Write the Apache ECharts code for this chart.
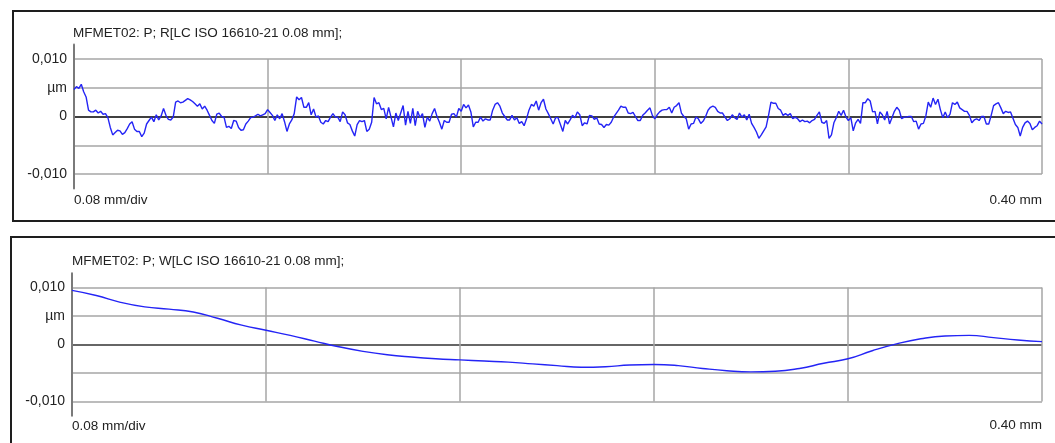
<!DOCTYPE html>
<html>
<head>
<meta charset="utf-8">
<script src="https://cdn.jsdelivr.net/npm/echarts@6/dist/echarts.min.js"></script>
<style>
html,body{margin:0;padding:0;background:#fff;}
#chart{width:1055px;height:443px;}
</style>
</head>
<body>
<div id="chart"></div>
<script>
// ---- data ----
const titleR = 'MFMET02: P; R[LC ISO 16610-21 0.08 mm];';
const titleW = 'MFMET02: P; W[LC ISO 16610-21 0.08 mm];';
const xScaleLabel = '0.08 mm/div';
const xEndLabel = '0.40 mm';
const xMin = 0, xMax = 0.40, xDiv = 0.08;
const yTicks = [-0.01, -0.005, 0, 0.005, 0.01];
const yTickLabels = ['-0,010', '', '0', 'µm', '0,010'];

// roughness profile, sampled every 0.001 mm
const rStep = 0.001;
const rValues = [
 0.0047,0.0052,0.0049,0.0056,0.0043,0.0034,0.0011,0.0008,0.0008,0.0011,
 0.0006,0.0009,0.0004,0.0005,-0.0002,-0.0019,-0.0032,-0.0028,-0.0024,-0.0025,
 -0.0031,-0.0028,-0.0021,-0.0013,-0.0009,-0.0022,-0.0026,-0.0026,-0.0035,-0.0029,
 -0.0013,-0.0007,-0.0001,-0.0009,0.0003,-0.0006,0.0001,0.0014,0.0002,-0.0005,
 -0.0006,-0.0001,0.0025,0.0027,0.0024,0.0025,0.0028,0.0031,0.0029,0.0026,
 0.0022,0.0018,0.0022,0.0013,0.0018,0.0011,0.0002,-0.0007,-0.0012,0.0004,
 0.0006,0,-0.0001,-0.0019,-0.0017,-0.0021,-0.0007,-0.0008,-0.0019,-0.0024,
 -0.0023,-0.0013,-0.0008,-0.0002,-0.0001,0.0001,0.0004,0.0001,0.0003,0.0005,
 0.0012,0.0007,0.0002,-0.0007,0.0003,-0.0004,0.0005,-0.0009,-0.0026,-0.0013,
 -0.0006,0.0005,0.0034,0.0029,0.0033,0.0016,0.0016,0.0024,0.0003,0.0013,
 -0.0001,0.0001,-0.001,-0.0013,-0.0007,-0.0009,-0.0001,0.0005,-0.0001,-0.0001,
 -0.0009,0.0008,0.0003,-0.0011,-0.0014,-0.0025,-0.0034,-0.0014,-0.0007,-0.0009,
 -0.0007,-0.0026,-0.0022,-0.001,0.0033,0.0022,0.0024,0.0012,0.0014,-0.0004,
 0.0016,-0.0001,-0.0018,0.0006,-0.0007,0.0006,0.0019,-0.0015,0.0009,-0.0012,
 0.0014,-0.0016,0.0009,-0.0002,0.0005,-0.0019,-0.0001,-0.0008,0.0005,0.0014,
 0,-0.001,-0.0022,-0.0007,-0.001,-0.001,0.0004,0.0005,-0.0001,0.0014,
 0.0009,0.0021,0.0015,0.002,0.0008,-0.0018,-0.001,-0.001,-0.0001,-0.0008,
 -0.0004,-0.0006,-0.0006,0.0011,0.0021,0.0024,0.0018,0.0006,0,-0.0006,
 -0.0006,0.0002,-0.0006,-0.0002,-0.0012,-0.0009,-0.0016,-0.0004,0.0011,0.0021,
 0.0018,0.0027,0.0011,0.0024,0.003,0.0013,0.0005,-0.0004,-0.0013,-0.0002,
 -0.0002,-0.0014,-0.0026,-0.0007,-0.0013,-0.0006,0.0002,-0.0002,0.0008,0.0003,
 -0.0016,-0.0011,-0.0013,0.0002,0.0001,-0.0005,-0.0002,-0.0013,-0.0014,-0.0019,
 -0.0014,-0.0015,-0.001,-0.0001,0.0005,0.0011,0.0018,0.0016,0.0016,0.0006,
 0.0005,0.0007,0,-0.0007,-0.0007,0.0002,0.0006,0.0011,0.0015,0.0002,
 -0.0004,0.0003,0.0008,0.0011,0.0012,0.0012,0.0016,0.0006,0.0016,0.0019,
 0.0024,0.0006,0,-0.0004,-0.0022,-0.0013,-0.0012,-0.0001,-0.0004,-0.0012,
 -0.0008,0,0.0011,0.0016,0.0018,0.0016,0.0009,0.0006,0.0006,-0.0001,
 -0.0007,-0.0004,0.0003,-0.0002,-0.0005,0.0006,-0.0001,0.0003,-0.0006,0.0004,
 -0.0012,-0.0019,-0.0027,-0.0038,-0.0032,-0.0025,-0.0018,0.0002,0.0025,0.0023,
 0.0023,0.0014,0.0011,0.0002,0.0005,0.0002,0.0005,-0.0004,-0.0001,-0.0004,
 -0.0009,-0.0006,-0.0009,-0.0008,-0.0011,-0.0007,-0.0005,0.0002,0.0008,-0.001,
 -0.0012,-0.0007,-0.0038,-0.0032,-0.0011,-0.0002,0.0009,0.0002,0.0011,-0.0001,
 -0.0007,-0.0002,-0.0025,-0.0011,-0.0005,-0.0012,0.0024,0.0024,0.0031,0.0027,
 0.0008,0.0009,-0.0013,0.0008,0.0003,-0.0006,0.0009,-0.0013,-0.0002,0.0009,
 0.0016,0.0011,-0.0004,-0.0001,-0.0001,0,0,-0.0009,-0.0008,-0.0022,
 -0.0013,-0.0012,0.0001,0.0025,0.0016,0.0032,0.0021,0.003,0.0012,-0.0002,
 0.0008,-0.0002,0.0004,0.0024,0.0021,0.0025,0.0015,0.0012,0.0009,0.0009,
 0.0002,-0.0011,-0.0006,-0.0004,-0.0007,0,0,-0.0013,-0.0013,0.0002,
 0.0019,0.0022,0.0024,0.0015,0.0005,0.0009,0.0007,0.0008,-0.0003,-0.0014,
 -0.0019,-0.0034,-0.0019,-0.0011,-0.0008,-0.0012,-0.0023,-0.0019,-0.0016,-0.0008,
 -0.0013
];

// waviness profile, sampled every 0.01 mm
const wStep = 0.01;
const wValues = [
 0.0095,0.0086,0.0074,0.0066,0.0062,0.0057,0.0046,0.0034,0.0025,0.0016,
 0.0006,-0.0004,-0.0012,-0.0018,-0.0022,-0.0025,-0.0027,-0.0029,-0.0031,-0.0034,
 -0.0037,-0.004,-0.0039,-0.0036,-0.0035,-0.0037,-0.0042,-0.0046,-0.0048,-0.0047,
 -0.0042,-0.0033,-0.0025,-0.0011,0.0001,0.001,0.0015,0.0016,0.0012,0.0008,
 0.0005
];

// ---- chart ----
const rData = rValues.map((v, i) => [+(i * rStep).toFixed(4), v]);
const wData = wValues.map((v, i) => [+(i * wStep).toFixed(3), v]);

const FONT = '"Liberation Sans", Arial, sans-serif';
const TXT = '#222';
const GRIDC = '#a6a6a6';

function yLabel(v) {
  for (let k = 0; k < yTicks.length; k++) {
    if (Math.abs(v - yTicks[k]) < 1e-9) return yTickLabels[k];
  }
  return '';
}

const panels = [
  {left: 74, top: 59, height: 115, ext: 14.4, data: rData, title: titleR, zeroW: 1.5, zeroC: '#000'},
  {left: 72, top: 287.5, height: 114, ext: 14.25, data: wData, title: titleW, zeroW: 1.8, zeroC: '#333', smooth: true}
];
const plotRight = 1042;

const grids = [], xAxes = [], yAxes = [], series = [];
panels.forEach((p, k) => {
  const g = grids.length;
  grids.push({left: p.left, top: p.top, width: plotRight - p.left, height: p.height});
  grids.push({left: p.left, top: p.top - p.ext, width: plotRight - p.left, height: p.height + 2 * p.ext});
  xAxes.push({
    type: 'value', gridIndex: g, min: xMin, max: xMax, interval: xDiv,
    axisLine: {show: false}, axisTick: {show: false}, axisLabel: {show: false},
    splitLine: {show: true, lineStyle: {color: GRIDC, width: 1.5}}
  });
  xAxes.push({type: 'value', gridIndex: g + 1, min: xMin, max: xMax, show: false});
  yAxes.push({
    type: 'value', gridIndex: g, min: -0.01, max: 0.01, interval: 0.005,
    axisLine: {show: false}, axisTick: {show: false},
    axisLabel: {show: true, formatter: yLabel, color: TXT, fontSize: 14, fontFamily: FONT, margin: 7},
    splitLine: {show: true, lineStyle: {color: [GRIDC, GRIDC, p.zeroC, GRIDC, GRIDC], width: 1.5}}
  });
  yAxes.push({
    type: 'value', gridIndex: g + 1, min: -0.0125, max: 0.0125,
    axisLine: {show: true, lineStyle: {color: '#7a7a7a', width: 2}},
    axisTick: {show: false}, axisLabel: {show: false}, splitLine: {show: false}
  });
  series.push({
    type: 'line', xAxisIndex: g, yAxisIndex: g, data: p.data,
    showSymbol: false, smooth: !!p.smooth, clip: true,
    lineStyle: {color: '#2424f5', width: 1.4}, z: 5
  });
});

const texts = [
  {t: titleR, x: 73, y: 33, align: 'left'},
  {t: xScaleLabel, x: 74, y: 200, align: 'left'},
  {t: xEndLabel, x: 1042, y: 200, align: 'right'},
  {t: titleW, x: 72, y: 261, align: 'left'},
  {t: xScaleLabel, x: 72, y: 426, align: 'left'},
  {t: xEndLabel, x: 1042, y: 425, align: 'right'}
];

const graphic = [
  {type: 'rect', shape: {x: 13, y: 11, width: 1100, height: 210}, style: {fill: 'none', stroke: '#1e1e1e', lineWidth: 2}, silent: true},
  {type: 'rect', shape: {x: 11, y: 237, width: 1100, height: 300}, style: {fill: 'none', stroke: '#1e1e1e', lineWidth: 2}, silent: true}
].concat(texts.map(o => ({
  type: 'text', x: o.x, y: o.y, silent: true,
  style: {text: o.t, fill: TXT, font: '13.5px ' + FONT, textAlign: o.align, textVerticalAlign: 'middle'}
})));

const chart = echarts.init(document.getElementById('chart'), null, {renderer: 'canvas'});
chart.setOption({
  animation: false,
  backgroundColor: '#fff',
  grid: grids,
  xAxis: xAxes,
  yAxis: yAxes,
  series: series,
  graphic: graphic
});
</script>
</body>
</html>
